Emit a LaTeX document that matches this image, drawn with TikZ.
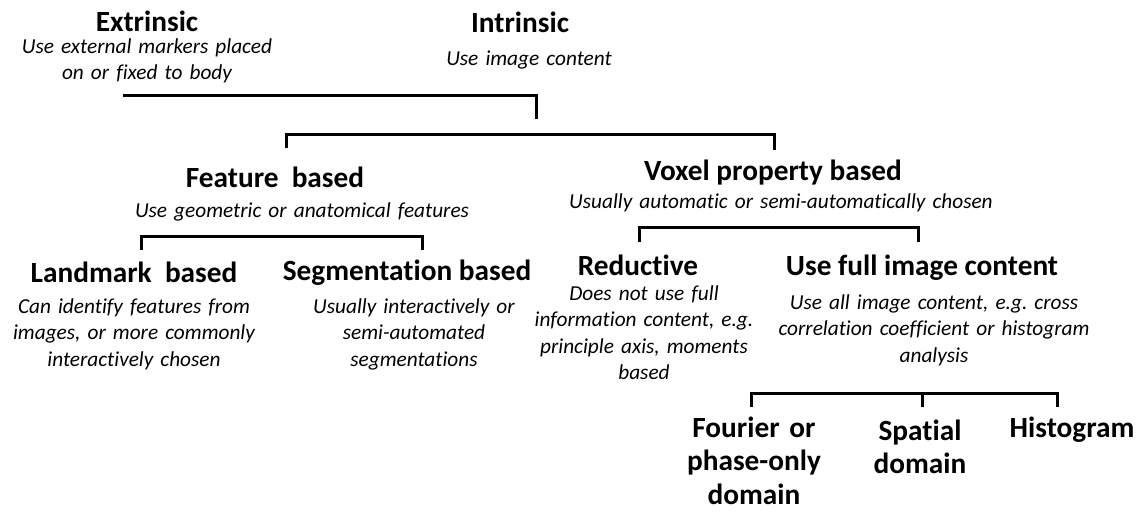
\documentclass[tikz,border=0pt]{standalone}
\usepackage{fontspec}
\setmainfont{Carlito}[Ligatures={NoCommon}]
\frenchspacing
\begin{document}
\begin{tikzpicture}[x=1pt,y=-1pt,
  title/.style={anchor=base, inner sep=0pt, font=\bfseries\fontsize{29.3}{33.5}\selectfont},
  titlemulti/.style={title, align=center, text width=#1},
  desc/.style={anchor=base, inner sep=0pt, align=center, text width=#1,
               font=\itshape\fontsize{21.3}{26.5}\selectfont},
  bracket/.style={line width=3pt, line join=miter, line cap=butt}]
\useasboundingbox (0,0) rectangle (1142,511);

% top level
\node[title] (ext) at (147,31.7) {Extrinsic};
\node[desc=270pt] (extd) at (147,53) {Use external markers placed\\on or fixed to body};
\node[title] (int) at (520,33) {Intrinsic};
\node[desc=200pt] (intd) at (529,66) {Use image content};

% second level
\node[title] (feat) at (275,187) {Feature\ \ based};
\node[desc=360pt] (featd) at (302,217) {Use geometric or anatomical features};
\node[title] (vox) at (773,180) {Voxel property based};
\node[desc=450pt] (voxd) at (781,208) {Usually automatic or semi-automatically chosen};

% third level
\node[title] (land) at (134,282) {Landmark\ \ based};
\node[desc=260pt] (landd) at (134,313) {Can identify features from\\images, or more commonly\\interactively chosen};
\node[title] (seg) at (407,280) {Segmentation based};
\node[desc=220pt] (segd) at (414,313) {Usually interactively or\\semi-automated\\segmentations};
\node[title] (red) at (638,275) {Reductive};
\node[desc=230pt] (redd) at (644,300) {Does not use full\\information content, e.g.\\principle axis, moments\\based};
\node[title] (full) at (922,275) {Use full image content};
\node[desc=330pt] (fulld) at (934,309) {Use all image content, e.g. cross\\correlation coefficient or histogram\\analysis};

% fourth level
\node[titlemulti=150pt] (four) at (754,437) {Fourier or\\phase-only\\domain};
\node[titlemulti=110pt] (spat) at (920,440) {Spatial\\domain};
\node[title] (hist) at (1072,437) {Histogram};

% bracket end points
\coordinate (b1l) at (123,95);
\coordinate (b1r) at (536,95);
\coordinate (b1d) at (536,119);
\coordinate (b2ld) at (286,148);
\coordinate (b2l) at (286,134);
\coordinate (b2r) at (774,134);
\coordinate (b2rd) at (774,150);
\coordinate (b3ld) at (141,250);
\coordinate (b3l) at (141,236);
\coordinate (b3r) at (422,236);
\coordinate (b3rd) at (422,250);
\coordinate (b4ld) at (639,242);
\coordinate (b4l) at (639,227);
\coordinate (b4r) at (918,227);
\coordinate (b4rd) at (918,242);
\coordinate (b5ld) at (751,407);
\coordinate (b5l) at (751,393);
\coordinate (b5m) at (922,393);
\coordinate (b5md) at (922,407);
\coordinate (b5r) at (1057,393);
\coordinate (b5rd) at (1057,407);

% brackets
\draw[bracket] (b1l) -- (b1r) -- (b1d);
\draw[bracket] (b2ld) -- (b2l) -- (b2r) -- (b2rd);
\draw[bracket] (b3ld) -- (b3l) -- (b3r) -- (b3rd);
\draw[bracket] (b4ld) -- (b4l) -- (b4r) -- (b4rd);
\draw[bracket] (b5ld) -- (b5l) -- (b5r) -- (b5rd);
\draw[bracket] (b5m) -- (b5md);
\end{tikzpicture}
\end{document}
